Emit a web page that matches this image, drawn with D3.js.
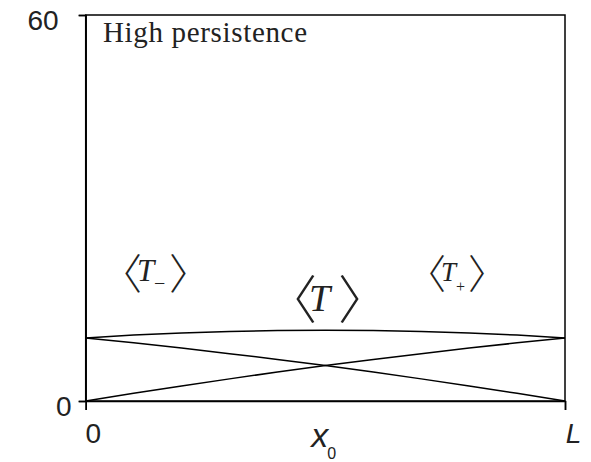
<!DOCTYPE html>
<html>
<head>
<meta charset="utf-8">
<script src="https://cdn.jsdelivr.net/npm/d3@7"></script>
<style>
  html, body { margin: 0; padding: 0; background: #fff; }
  svg { display: block; }
</style>
</head>
<body>
<svg id="chart" width="591" height="462"></svg>
<script>
// ---- data ----
const xPos   = [0, 0.1, 0.2, 0.3, 0.4, 0.5, 0.6, 0.7, 0.8, 0.9, 1.0];
const tPlus  = [0, 1.20, 2.34, 3.44, 4.50, 5.50, 6.46, 7.36, 8.22, 9.04, 9.80];
const tMinus = [9.80, 9.04, 8.22, 7.36, 6.46, 5.50, 4.50, 3.44, 2.34, 1.20, 0];
const tMean  = [9.80, 10.24, 10.56, 10.80, 10.96, 11.00, 10.96, 10.80, 10.56, 10.24, 9.80];
const yTicks = [0, 60];
const yTickLabels = ["0", "60"];
const xTicks = [0, 1];
const xTickLabels = ["0", "L"];
const xMid = 0.5;
const title = "High persistence";

// ---- layout ----
const svg = d3.select("#chart");
const pLeft = 85.7, pRight = 565, pTop = 15, pBottom = 401;
const x = d3.scaleLinear().domain([0, 1]).range([pLeft, pRight]);
const y = d3.scaleLinear().domain([0, 60]).range([pBottom, pTop]);

// frame
svg.append("rect")
  .attr("x", pLeft).attr("y", pTop)
  .attr("width", pRight - pLeft).attr("height", pBottom - pTop)
  .attr("fill", "none").attr("stroke", "#000").attr("stroke-width", 1.5);

// y axis
const yAxis = svg.append("g")
  .attr("transform", `translate(${pLeft},0)`)
  .call(d3.axisLeft(y).tickValues(yTicks).tickSize(7)
        .tickFormat((d, i) => yTickLabels[i]));
yAxis.select(".domain").attr("stroke-width", 1.5);
yAxis.selectAll(".tick line").attr("stroke-width", 1.5);
yAxis.selectAll(".tick text")
  .attr("font-family", "Liberation Sans, Arial, sans-serif")
  .attr("font-size", 28).attr("fill", "#222")
  .attr("x", d => d === 60 ? -27 : -14)
  .attr("dy", "0.52em");

// x axis
const xAxis = svg.append("g")
  .attr("transform", `translate(0,${pBottom})`)
  .call(d3.axisBottom(x).tickValues(xTicks).tickSize(9)
        .tickFormat((d, i) => xTickLabels[i]));
xAxis.select(".domain").attr("stroke-width", 1.5);
xAxis.selectAll(".tick line").attr("stroke-width", 1.5);
xAxis.selectAll(".tick text")
  .attr("font-family", "Liberation Sans, Arial, sans-serif")
  .attr("font-size", 28).attr("fill", "#222")
  .attr("font-style", d => d === 1 ? "italic" : "normal")
  .attr("x", d => d === 1 ? 8 : 7)
  .attr("y", 42).attr("dy", 0);

// x0 label
const xl = svg.append("text")
  .attr("x", x(xMid) - 14).attr("y", 447)
  .attr("font-family", "Liberation Sans, Arial, sans-serif")
  .attr("fill", "#222");
xl.append("tspan").attr("font-size", 34).attr("font-style", "italic").text("x");
xl.append("tspan").attr("font-size", 16).attr("dx", -1).attr("dy", 12).text("0");

// title
svg.append("text")
  .attr("x", 103).attr("y", 42)
  .attr("font-family", "Liberation Serif, Times New Roman, serif")
  .attr("font-size", 29).attr("fill", "#222")
  .attr("textLength", 204).attr("lengthAdjust", "spacing")
  .text(title);

// lines
const line = d3.line().x((d, i) => x(xPos[i])).y(d => y(d));
[tPlus, tMinus, tMean].forEach(s => {
  svg.append("path").datum(s)
    .attr("d", line)
    .attr("fill", "none").attr("stroke", "#000").attr("stroke-width", 1.5);
});

// series labels <T->, <T>, <T+>  (one text element each)
const bracketFont = "Noto Sans CJK JP, Noto Sans CJK SC, sans-serif";
const serif = "Liberation Serif, Times New Roman, serif";
function bracketLabel(o) {
  const t = svg.append("text").attr("fill", "#222");
  t.append("tspan").attr("x", o.lb).attr("y", o.by)
    .attr("font-family", bracketFont).attr("font-size", o.bs)
    .attr("font-weight", 300).text("\u3008");
  t.append("tspan").attr("x", o.tx).attr("y", o.ty)
    .attr("font-family", serif).attr("font-style", "italic")
    .attr("font-size", o.ts).text("T");
  if (o.sub) {
    t.append("tspan").attr("x", o.sx).attr("y", o.sy)
      .attr("font-family", serif).attr("font-size", o.ss).text(o.sub);
  }
  t.append("tspan").attr("x", o.rb).attr("y", o.by)
    .attr("font-family", bracketFont).attr("font-size", o.bs)
    .attr("font-weight", 300).text("\u3009");
}
bracketLabel({lb: 100, rb: 169, by: 289, bs: 42, tx: 137, ty: 281, ts: 31, sub: "\u2212", sx: 154, sy: 290, ss: 20});
bracketLabel({lb: 265, rb: 338, by: 319, bs: 52, tx: 309, ty: 311, ts: 38});
bracketLabel({lb: 406, rb: 468, by: 289, bs: 40, tx: 441, ty: 281, ts: 27, sub: "+", sx: 456, sy: 292, ss: 16});
</script>
</body>
</html>
